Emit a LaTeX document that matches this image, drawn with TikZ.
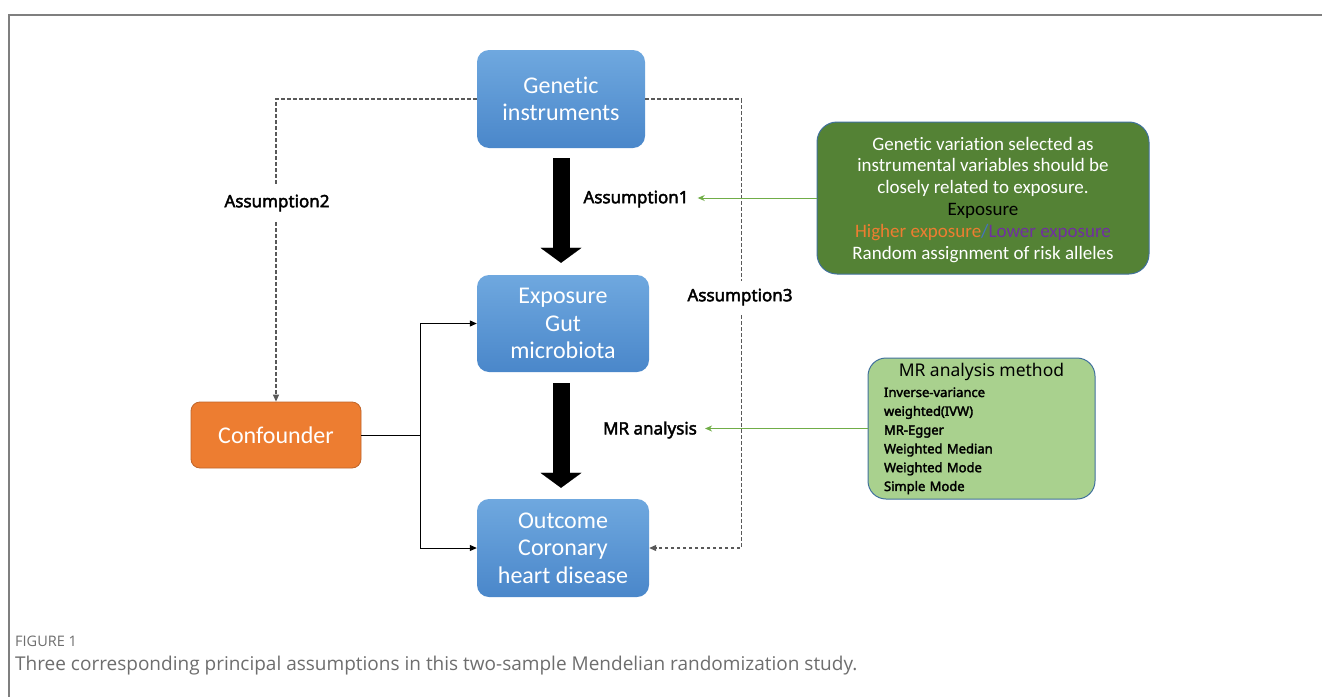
\documentclass[tikz,border=0pt]{standalone}
\usepackage{fontspec}
\setmainfont{Carlito}[Ligatures=NoCommon]
\newfontfamily\notofont{Noto Sans}[AutoFakeBold=2.5]
\newfontfamily\capfont{Open Sans}
\usetikzlibrary{arrows.meta}
\definecolor{bluetop}{HTML}{6FA8DF}
\definecolor{bluebot}{HTML}{4A87CA}
\definecolor{conforange}{HTML}{ED7D31}
\definecolor{confborder}{HTML}{C0652A}
\definecolor{darkgreen}{HTML}{548235}
\definecolor{lightgreen}{HTML}{A9D18E}
\definecolor{boxblue}{HTML}{41719C}
\definecolor{arrowgreen}{HTML}{70AD47}
\definecolor{dashgray}{HTML}{595959}
\definecolor{hiorange}{HTML}{ED7D31}
\definecolor{lopurple}{HTML}{7030A0}
\definecolor{slashblue}{HTML}{4472C4}
\definecolor{framegray}{HTML}{7F7F7F}
\definecolor{capgray}{HTML}{6E6E6E}
\begin{document}
\begin{tikzpicture}[x=1pt,y=-1pt,
  bluebox/.style={rounded corners=12pt, top color=bluetop, bottom color=bluebot, draw=none,
    text=white, font=\fontsize{24}{27.5}\selectfont, align=center,
    minimum width=172pt, minimum height=97pt, inner sep=0pt},
  confbox/.style={rounded corners=9pt, fill=conforange, draw=confborder, line width=0.8pt,
    text=white, font=\fontsize{24}{28}\selectfont, align=center,
    minimum width=170pt, minimum height=66pt, inner sep=0pt},
  gbox/.style={rounded corners=20pt, fill=darkgreen, draw=boxblue, line width=1pt,
    text=white, font=\fontsize{19}{21.8}\selectfont, align=center,
    minimum width=332pt, minimum height=152pt, inner sep=0pt},
  lgbox/.style={rounded corners=18pt, fill=lightgreen, draw=boxblue, line width=1pt,
    text=black, align=left, text width=195pt, inner xsep=16pt,
    minimum height=141pt, font=\notofont\bfseries\fontsize{13}{18.8}\selectfont},
  lab/.style={font=\notofont\bfseries\fontsize{17}{19}\selectfont, text=black, inner ysep=2pt},
  bigarrow/.style={line width=17pt, black, -{Triangle[length=15pt,width=41pt,line width=0.01pt]}},
  dashline/.style={dashgray, line width=1.2pt, dash pattern=on 3.5pt off 2.5pt,
    -{Triangle[length=7pt,width=6pt]}},
  solidline/.style={black, line width=1pt},
  solidarrow/.style={black, line width=1pt, -{Triangle[length=7pt,width=6pt]}},
  garrow/.style={arrowgreen, line width=1pt, -{Stealth[length=7pt,width=6pt]}},
  captxt/.style={anchor=base west, inner sep=0pt, text=capgray}
]
\useasboundingbox (0,0) rectangle (1322,696);
\fill[white] (0,0) rectangle (1322,696);
% frame
\draw[framegray, line width=1.5pt] (9,700) -- (9,15) -- (1330,15);

% main boxes
\node[bluebox, minimum width=168pt, minimum height=98pt] (gen) at (561,99) {Genetic\\instruments};
\node[bluebox] (exp) at (563,323.5) {Exposure\\Gut\\microbiota};
\node[bluebox, minimum height=98pt] (out) at (563,548) {Outcome\\Coronary\\heart disease};
\node[confbox] (conf) at (276,435) {Confounder};

% dashed assumption paths
\draw[dashline] (gen.west) -| (conf.north);
\draw[dashline] (gen.east) -- ++(96,0) |- (out.east);

% confounder connectors
\coordinate (j) at (420,435);
\draw[solidline] (conf.east) -- (j);
\draw[solidarrow] (j) |- (exp.west);
\draw[solidarrow] (j) |- (out.west);

% big arrows
\draw[bigarrow] ([yshift=-10pt]gen.south) -- ([yshift=12pt]gen.south |- exp.north);
\draw[bigarrow] ([yshift=-11pt]gen.south |- exp.south) -- ([yshift=11pt]gen.south |- out.north);

% labels
\node[lab, fill=white, inner ysep=10pt, inner xsep=3pt] (a2) at (277,203) {Assumption2};
\node[lab, fill=white, inner ysep=8pt, inner xsep=3pt] (a3) at (740,297) {Assumption3};
\node[lab, inner xsep=9pt] (a1) at (636,199) {Assumption1};
\node[lab, inner xsep=8pt] (mr) at (650,430) {MR analysis};

% green boxes
\node[gbox, text depth=-3pt] (g1) at (983,198) {Genetic variation selected as\\instrumental variables should be\\closely related to exposure.\\{\color{black}Exposure}\\{\color{hiorange}Higher exposure}{\color{slashblue}/}{\color{lopurple}Lower exposure}\\Random assignment of risk alleles};
\node[lgbox] (g2) at (981.5,428.5) {\makebox[195pt][c]{\mdseries\fontsize{17.5}{19}\selectfont MR analysis method}\\[2pt]
Inverse-variance\\weighted(IVW)\\MR-Egger\\Weighted Median\\Weighted Mode\\Simple Mode};

% green arrows
\draw[garrow] (g1.west) -- (g1.west -| a1.east);
\draw[garrow] (g2.west) -- (g2.west -| mr.east);

% caption
\node[captxt, font=\capfont\fontsize{14.5}{16}\selectfont] (figlab) at (15,646) {FIGURE 1};
\node[captxt, font=\capfont\fontsize{19}{22}\selectfont] (cap) at (15,670) {Three corresponding principal assumptions in this two-sample Mendelian randomization study.};
\end{tikzpicture}
\end{document}
